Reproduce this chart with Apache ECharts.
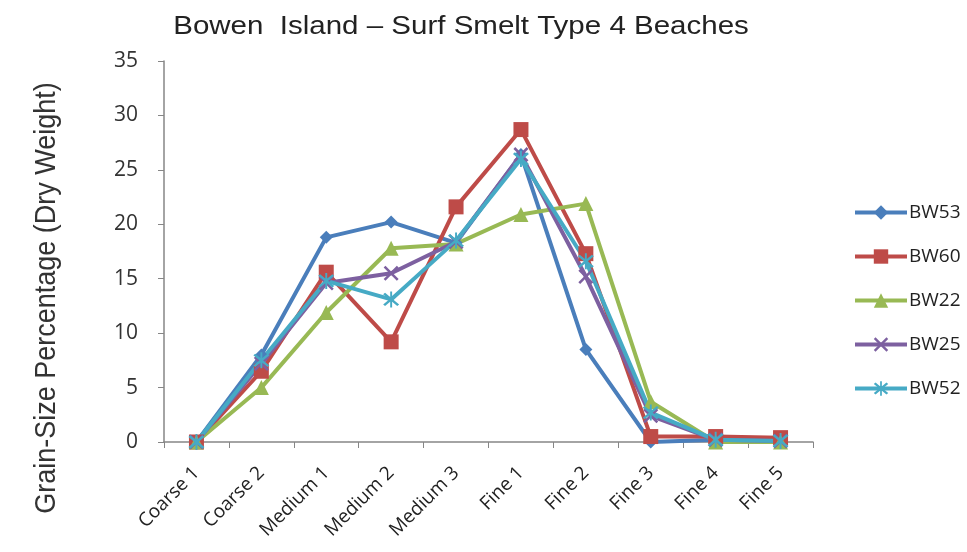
<!DOCTYPE html>
<html><head><meta charset="utf-8">
<script src="https://cdn.jsdelivr.net/npm/echarts@6/dist/echarts.min.js"></script>
<style>html,body{margin:0;padding:0;background:#fff}#c{width:967px;height:552px}</style>
</head><body><div id="c"></div>
<script>
const categories = ['Coarse 1','Coarse 2','Medium 1','Medium 2','Medium 3','Fine 1','Fine 2','Fine 3','Fine 4','Fine 5'];
const BW53 = [0, 8.0, 18.8, 20.2, 18.3, 26.4, 8.5, 0.0, 0.2, 0.1];
const BW60 = [0, 6.5, 15.6, 9.2, 21.6, 28.7, 17.3, 0.5, 0.5, 0.4];
const BW22 = [0, 5.0, 11.9, 17.8, 18.2, 20.9, 21.9, 3.7, 0.0, 0.0];
const BW25 = [0, 7.2, 14.6, 15.5, 18.4, 26.4, 15.2, 2.4, 0.2, 0.1];
const BW52 = [0, 7.5, 14.8, 13.1, 18.5, 26.0, 16.6, 2.7, 0.2, 0.1];
const yTicks = [0,5,10,15,20,25,30,35];
const titleText = 'Bowen  Island \u2013 Surf Smelt Type 4 Beaches';
const yTitleText = 'Grain-Size Percentage (Dry Weight)';

const xPath = 'path://M0,1.2 L1.2,0 L10,8.8 L8.8,10 Z M8.8,0 L10,1.2 L1.2,10 L0,8.8 Z';
const starPath = 'path://M0,1.2 L1.2,0 L10,8.8 L8.8,10 Z M8.8,0 L10,1.2 L1.2,10 L0,8.8 Z M4.4,-1 L5.6,-1 L5.6,11 L4.4,11 Z';

const seriesDefs = [
  {name:'BW53', data:BW53, color:'#4a7ebb', symbol:'diamond', size:13},
  {name:'BW60', data:BW60, color:'#be4b48', symbol:'rect', size:15},
  {name:'BW22', data:BW22, color:'#98b954', symbol:'triangle', size:15},
  {name:'BW25', data:BW25, color:'#7d60a0', symbol:xPath, size:15},
  {name:'BW52', data:BW52, color:'#46aac5', symbol:starPath, size:16}
];

const chart = echarts.init(document.getElementById('c'), null, {renderer:'canvas'});
chart.setOption({
  animation:false,
  backgroundColor:'#fff',
  graphic:[
    {type:'text', x:461, y:27, scaleX:1.18, scaleY:1,
     style:{text:titleText, align:'center', verticalAlign:'middle',
       font:'25px "Liberation Sans", Arial, sans-serif', fill:'#222'}},
    {type:'text', x:47, y:298, rotation:Math.PI/2, scaleX:1, scaleY:1.08,
     style:{text:yTitleText, align:'center', verticalAlign:'middle',
       font:'27px "Liberation Sans", Arial, sans-serif', fill:'#333'}}
  ],
  legend:{
    orient:'vertical', left:848, top:198, itemGap:25, itemWidth:52, itemHeight:18,
    lineStyle:{width:4},
    textStyle:{fontFamily:'Open Sans, sans-serif', fontSize:19, color:'#222', lineHeight:18, padding:[0,0,0,-3]},
    data:seriesDefs.map(s=>s.name)
  },
  grid:{left:164, right:154, top:61, bottom:110, containLabel:false},
  xAxis:{
    type:'category', data:categories, boundaryGap:true,
    axisLine:{lineStyle:{color:'#868686', width:1.5}},
    axisTick:{show:true, alignWithLabel:false, length:6, lineStyle:{color:'#868686'}},
    axisLabel:{rotate:45, interval:0, margin:28, fontFamily:'Open Sans, sans-serif', fontSize:19, color:'#222'},
    splitLine:{show:false}
  },
  yAxis:{
    type:'value', min:0, max:35, interval:5,
    axisLine:{show:true, lineStyle:{color:'#868686', width:1.5}},
    axisTick:{show:true, length:6, lineStyle:{color:'#868686'}},
    axisLabel:{margin:26, fontFamily:'Open Sans, sans-serif', fontSize:21, color:'#333',
      formatter:v=>yTicks.includes(v)?String(v):''},
    splitLine:{show:false}
  },
  series:seriesDefs.map(s=>({
    name:s.name, type:'line', data:s.data, symbol:s.symbol, symbolSize:s.size,
    showAllSymbol:true, z:2,
    lineStyle:{color:s.color, width:4},
    itemStyle:{color:s.color, borderColor:s.color, borderWidth:0}
  }))
});
</script></body></html>
